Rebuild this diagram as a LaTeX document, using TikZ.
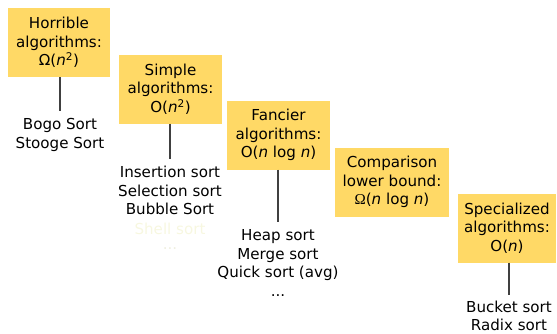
\documentclass[tikz,border=0pt]{standalone}
\usepackage{fontspec}
\setmainfont{DejaVu Sans}
\newfontfamily\serifomega{Liberation Serif}
\definecolor{boxfill}{HTML}{FFD966}
\definecolor{linegray}{HTML}{404040}
\definecolor{faint}{HTML}{F7F7E0}
\definecolor{faintdots}{HTML}{EFEFE0}
\begin{document}
\begin{tikzpicture}[x=1pt,y=-1pt,
  every node/.style={font=\fontsize{15.1}{18.5}\selectfont, align=center},
  algbox/.style={fill=boxfill, minimum height=69pt, inner sep=0pt},
  listtext/.style={inner sep=0pt, text=black},
  conn/.style={draw=linegray, line width=1.4pt}]
\useasboundingbox (0,0) rectangle (557,333);
\node[algbox, minimum width=102pt] (b1) at (59,42.5) {Horrible\\algorithms:\\Ω(\textit{n}\textsuperscript{2})};
\node[algbox, minimum width=103pt] (b2) at (170.5,89) {Simple\\algorithms:\\O(\textit{n}\textsuperscript{2})};
\node[algbox, minimum width=103pt] (b3) at (278.5,135) {Fancier\\algorithms:\\O(\textit{n} log \textit{n})};
\node[algbox, minimum width=114pt] (b4) at (392,182) {Comparison\\lower bound:\\{\serifomega Ω}(\textit{n} log \textit{n})};
\node[algbox, minimum width=98pt] (b5) at (507,228) {Specialized\\algorithms:\\O(\textit{n})};

\node[listtext] (l1) at (60,135) {Bogo Sort\\Stooge Sort};
\node[listtext] (l2) at (170,190.5) {Insertion sort\\Selection sort\\Bubble Sort};
\node[listtext, text=faint] (l2s) at (170,229) {Shell sort};
\node[listtext, text=faintdots] (l2d) at (170,249) {...};
\node[listtext] (l3) at (278,263) {Heap sort\\Merge sort\\Quick sort (avg)\\...};
\node[listtext] (l5) at (509,316) {Bucket sort\\Radix sort};

\coordinate (e1) at (60,111);
\coordinate (e2) at (170,159);
\coordinate (e3) at (278,222);
\coordinate (e5) at (509,295);
\draw[conn] (b1.south -| e1) -- (e1);
\draw[conn] (b2.south -| e2) -- (e2);
\draw[conn] (b3.south -| e3) -- (e3);
\draw[conn] (b5.south -| e5) -- (e5);
\end{tikzpicture}
\end{document}
